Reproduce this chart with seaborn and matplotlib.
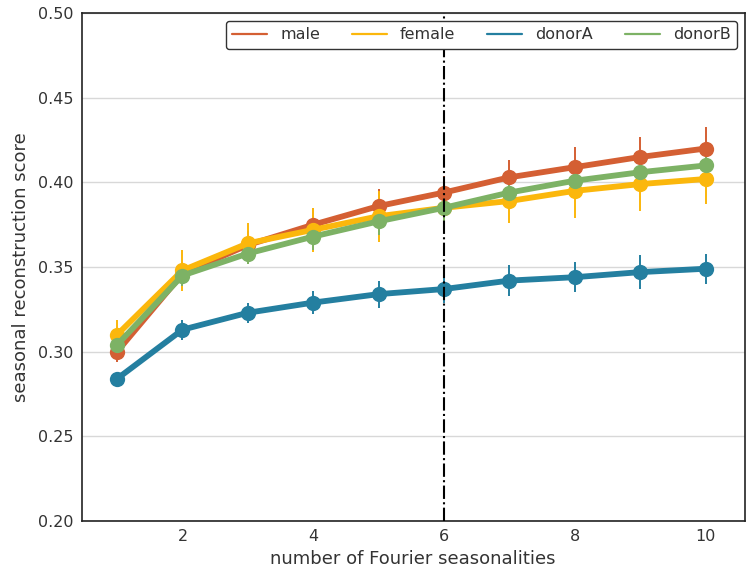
import numpy as np
import pandas as pd
import matplotlib
matplotlib.use("Agg")
import matplotlib.pyplot as plt
from matplotlib.lines import Line2D
import seaborn as sns

n_seasonalities = [1, 2, 3, 4, 5, 6, 7, 8, 9, 10]

male = [0.300, 0.346, 0.363, 0.375, 0.386, 0.394, 0.403, 0.409, 0.415, 0.420]
female = [0.310, 0.348, 0.364, 0.372, 0.380, 0.385, 0.389, 0.395, 0.399, 0.402]
donorA = [0.284, 0.313, 0.323, 0.329, 0.334, 0.337, 0.342, 0.344, 0.347, 0.349]
donorB = [0.304, 0.345, 0.358, 0.368, 0.377, 0.385, 0.394, 0.401, 0.406, 0.410]

male_err = [0.006, 0.007, 0.008, 0.010, 0.010, 0.010, 0.010, 0.012, 0.012, 0.013]
female_err = [0.009, 0.012, 0.012, 0.013, 0.015, 0.015, 0.013, 0.016, 0.016, 0.015]
donorA_err = [0.004, 0.006, 0.006, 0.007, 0.008, 0.008, 0.009, 0.009, 0.010, 0.009]
donorB_err = [0.005, 0.006, 0.006, 0.008, 0.008, 0.008, 0.008, 0.008, 0.009, 0.009]

groups = ["male", "female", "donorA", "donorB"]
colors = {"male": "#d45f33", "female": "#fbb70c", "donorA": "#247fa0", "donorB": "#7db265"}

values = {"male": male, "female": female, "donorA": donorA, "donorB": donorB}
errors = {"male": male_err, "female": female_err, "donorA": donorA_err, "donorB": donorB_err}

df = pd.concat(
    [pd.DataFrame({"k": n_seasonalities, "score": values[g], "err": errors[g], "group": g}) for g in groups],
    ignore_index=True,
)

sns.set_style("whitegrid")
plt.rcParams["font.family"] = ["DejaVu Sans"]

fig = plt.figure(figsize=(7.5, 5.7), dpi=100)
ax = fig.add_axes([0.109, 0.086, 0.884, 0.891])

for g in groups:
    sub = df[df["group"] == g]
    ax.errorbar(sub["k"], sub["score"], yerr=sub["err"], fmt="none",
                ecolor=colors[g], elinewidth=1.4, capsize=0, zorder=2)
    sns.lineplot(data=sub, x="k", y="score", color=colors[g], linewidth=4.2,
                 marker="o", markersize=11, markeredgewidth=0, ax=ax, zorder=3,
                 legend=False)

ax.axvline(6, color="black", linestyle="-.", linewidth=1.5, zorder=4)

ax.set_xlim(0.46, 10.6)
ax.set_ylim(0.20, 0.50)
ax.set_xticks([2, 4, 6, 8, 10])
ax.set_yticks([0.20, 0.25, 0.30, 0.35, 0.40, 0.45, 0.50])
ax.set_yticklabels([f"{v:.2f}" for v in [0.20, 0.25, 0.30, 0.35, 0.40, 0.45, 0.50]])
ax.grid(axis="x", visible=False)
ax.grid(axis="y", color="#d8d8d8", linewidth=1.0)
ax.tick_params(axis="both", labelsize=11.5, colors="#333333", length=0, pad=6)

for s in ax.spines.values():
    s.set_color("#222222")
    s.set_linewidth(1.2)

ax.set_xlabel("number of Fourier seasonalities", fontsize=13, color="#333333", labelpad=4)
ax.set_ylabel("seasonal reconstruction score", fontsize=13, color="#333333", labelpad=6)

handles = [Line2D([0], [0], color=colors[g], linewidth=1.6) for g in groups]
leg = ax.legend(handles, groups, loc="upper right", ncol=4, fontsize=11.5,
                frameon=True, fancybox=True, edgecolor="#333333", framealpha=1,
                borderaxespad=0.5, columnspacing=2.0, handlelength=2.2)
leg.get_frame().set_linewidth(1.0)
for t in leg.get_texts():
    t.set_color("#333333")

fig.savefig("out.png", dpi=100)
